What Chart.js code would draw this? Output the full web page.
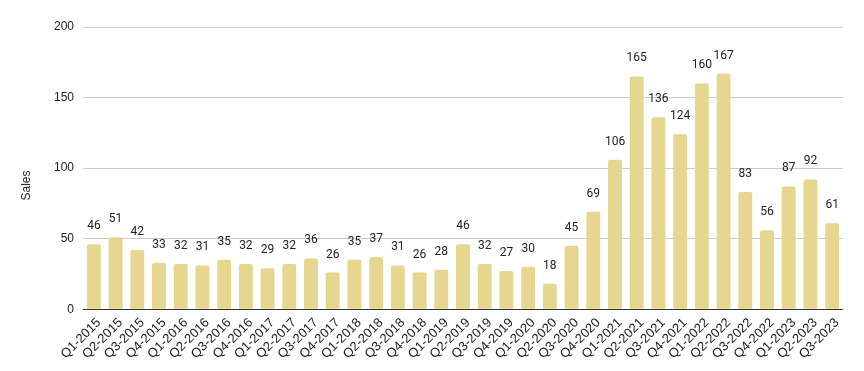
<!DOCTYPE html>
<html>
<head>
<meta charset="utf-8">
<script src="https://cdn.jsdelivr.net/npm/chart.js@4/dist/chart.umd.min.js"></script>
<style>
  html, body { margin: 0; padding: 0; background: #fff; }
  #wrap { width: 864px; height: 371px; }
</style>
</head>
<body>
<div id="wrap"><canvas id="salesChart" width="864" height="371"></canvas></div>
<script>
// quarters
const quarters = [
    'Q1-2015', 'Q2-2015', 'Q3-2015', 'Q4-2015',
    'Q1-2016', 'Q2-2016', 'Q3-2016', 'Q4-2016',
    'Q1-2017', 'Q2-2017', 'Q3-2017', 'Q4-2017',
    'Q1-2018', 'Q2-2018', 'Q3-2018', 'Q4-2018',
    'Q1-2019', 'Q2-2019', 'Q3-2019', 'Q4-2019',
    'Q1-2020', 'Q2-2020', 'Q3-2020', 'Q4-2020',
    'Q1-2021', 'Q2-2021', 'Q3-2021', 'Q4-2021',
    'Q1-2022', 'Q2-2022', 'Q3-2022', 'Q4-2022',
    'Q1-2023', 'Q2-2023', 'Q3-2023'
];

// sales per quarter
const sales = [
    46, 51, 42, 33,
    32, 31, 35, 32,
    29, 32, 36, 26,
    35, 37, 31, 26,
    28, 46, 32, 27,
    30, 18, 45, 69,
    106, 165, 136, 124,
    160, 167, 83, 56,
    87, 92, 61
];

const yTicks = [0, 50, 100, 150, 200];

// value above each bar + the y title (centred on the canvas, like the original)
const valueLabels = {
    id: 'valueLabels',
    afterDatasetsDraw(chart) {
        const ctx = chart.ctx;
        const meta = chart.getDatasetMeta(0);
        ctx.save();
        ctx.font = '12px Roboto';
        ctx.fillStyle = '#222222';
        ctx.textAlign = 'center';
        ctx.textBaseline = 'alphabetic';
        meta.data.forEach((bar, i) => {
            ctx.fillText(String(sales[i]), bar.x, bar.y - 15);
        });

        ctx.font = '12px "Liberation Sans"';
        ctx.translate(27, chart.height / 2);
        ctx.rotate(-Math.PI / 2);
        ctx.textBaseline = 'middle';
        ctx.fillText('Sales', 0, 0);
        ctx.restore();
    }
};

const ctx = document.getElementById('salesChart').getContext('2d');
new Chart(ctx, {
    type: 'bar',
    data: {
        labels: quarters,
        datasets: [{
            label: 'Sales',
            data: sales,
            backgroundColor: '#e6d68f',
            borderRadius: { topLeft: 2, topRight: 2 },
            borderSkipped: 'bottom',
            categoryPercentage: 1.0,
            barPercentage: 0.64
        }]
    },
    options: {
        responsive: false,
        animation: false,
        layout: {
            padding: { top: 27, right: 21, left: 45, bottom: 3 }
        },
        plugins: {
            legend: { display: false },
            tooltip: { enabled: false }
        },
        scales: {
            x: {
                grid: { display: false, drawTicks: false },
                border: { display: false },
                ticks: {
                    autoSkip: false,
                    maxRotation: 45,
                    minRotation: 45,
                    padding: 6,
                    labelOffset: 5,
                    color: '#222222',
                    font: { family: 'Liberation Sans', size: 13 }
                }
            },
            y: {
                min: 0,
                max: 200,
                afterBuildTicks: axis => {
                    axis.ticks = yTicks.map(v => ({ value: v }));
                },
                grid: {
                    color: ctx => ctx.tick && ctx.tick.value === 0 ? '#333333' : '#cccccc',
                    lineWidth: 1,
                    drawTicks: false
                },
                border: { display: false },
                ticks: {
                    padding: 9,
                    color: '#222222',
                    font: { family: 'Liberation Sans', size: 12 }
                }
            }
        }
    },
    plugins: [valueLabels]
});
</script>
</body>
</html>
